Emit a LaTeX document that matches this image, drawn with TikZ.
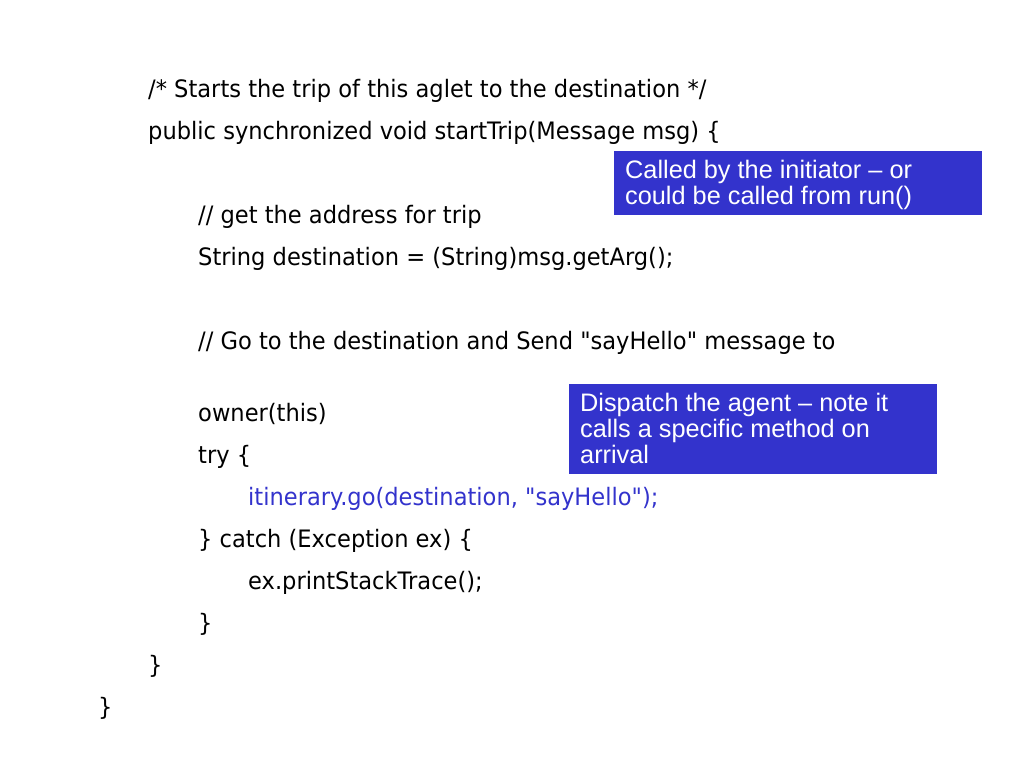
\documentclass[tikz,border=0pt]{standalone}
\usepackage{fontspec}
\setmainfont{DejaVu Sans}[FakeStretch=0.94,Ligatures=TeXOff]
\newfontfamily\boxfont{Liberation Sans}
\definecolor{noteblue}{RGB}{51,51,204}
\begin{document}
\begin{tikzpicture}[x=1pt,y=-1pt,
  code/.style={anchor=base west,inner sep=0pt,font=\fontsize{24}{28}\selectfont},
  note/.style={fill=noteblue,draw=none},
  notetext/.style={anchor=base west,inner sep=0pt,text=white,font=\boxfont\fontsize{25.3}{26}\selectfont}]
\useasboundingbox (0,0) rectangle (1024,768);
\node[code] (l1) at (148,97) {/* Starts the trip of this aglet to the destination */};
\node[code] (l2) at (148,139) {public synchronized void startTrip(Message msg) \{};
\node[code] (l3) at (198,223) {// get the address for trip};
\node[code] (l4) at (198,265) {String destination = (String)msg.getArg();};
\node[code] (l5) at (198,349) {// Go to the destination and Send "sayHello" message to};
\node[code] (l6) at (198,421) {owner(this)};
\node[code] (l7) at (198,463) {try \{};
\node[code,text=noteblue] (l8) at (248,505) {itinerary.go(destination, "sayHello");};
\node[code] (l9) at (198,547) {\} catch (Exception ex) \{};
\node[code] (l10) at (248,589) {ex.printStackTrace();};
\node[code] (l11) at (198,631) {\}};
\node[code] (l12) at (148,673) {\}};
\node[code] (l13) at (98,715) {\}};
\fill[note] (614,151) rectangle (982,215);
\node[notetext] (n1a) at (625,178) {Called by the initiator – or};
\node[notetext] (n1b) at (625,204) {could be called from run()};
\fill[note] (569,384) rectangle (937,474);
\node[notetext] (n2a) at (580,411) {Dispatch the agent – note it};
\node[notetext] (n2b) at (580,437) {calls a specific method on};
\node[notetext] (n2c) at (580,463) {arrival};
\end{tikzpicture}
\end{document}
